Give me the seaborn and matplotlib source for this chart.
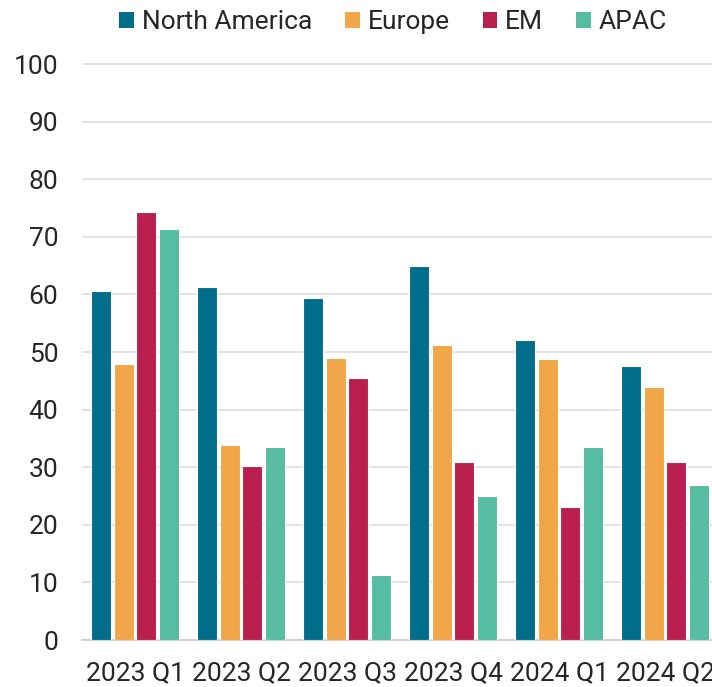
import matplotlib
matplotlib.use("Agg")
import matplotlib.pyplot as plt
from matplotlib import font_manager
from matplotlib.patches import Patch
import seaborn as sns
import pandas as pd

quarters = ["2023 Q1", "2023 Q2", "2023 Q3", "2023 Q4", "2024 Q1", "2024 Q2"]
regions = ["North America", "Europe", "EM", "APAC"]
north_america = [60.6, 61.3, 59.4, 65.0, 52.0, 47.6]
europe = [47.9, 33.9, 49.0, 51.2, 48.7, 43.9]
em = [74.3, 30.2, 45.4, 30.9, 23.1, 30.9]
apac = [71.3, 33.5, 11.3, 25.0, 33.5, 26.9]
y_ticks = [0, 10, 20, 30, 40, 50, 60, 70, 80, 90, 100]

colors = ["#006E8A", "#F2A64A", "#B91F4F", "#56BDA2"]

series = {"North America": north_america, "Europe": europe, "EM": em, "APAC": apac}
rows = []
for reg in regions:
    for q, v in zip(quarters, series[reg]):
        rows.append({"quarter": q, "region": reg, "value": v})
df = pd.DataFrame(rows)

sns.set_theme(style="white")
available = {f.name for f in font_manager.fontManager.ttflist}
family = next((f for f in ["Liberation Sans Narrow", "Roboto", "Liberation Sans"] if f in available),
              "DejaVu Sans")
plt.rcParams["font.family"] = [family, "DejaVu Sans"]
text_color = "#262626"

W, H = 712, 687
fig = plt.figure(figsize=(W / 100, H / 100), dpi=100)
ymax = 104
px_per_unit = 5.76
left, right = 82, 718
bottom_px = 640
top_px = bottom_px - ymax * px_per_unit
ax = fig.add_axes([left / W, (H - bottom_px) / H, (right - left) / W, (bottom_px - top_px) / H])

sns.barplot(data=df, x="quarter", y="value", hue="region", order=quarters,
            hue_order=regions, palette=colors, saturation=1, width=0.85, gap=0.12,
            edgecolor="white", linewidth=0.8, ax=ax, legend=False, zorder=3)

ax.set_ylim(0, ymax)
ax.set_xlim(-0.5, len(quarters) - 0.5)
ax.set_yticks(y_ticks)
ax.set_yticklabels([str(t) for t in y_ticks])
ax.grid(axis="y", color="#e0e0e0", linewidth=1.3, zorder=0)
ax.set_axisbelow(True)
for s in ["left", "right", "top"]:
    ax.spines[s].set_visible(False)
ax.spines["bottom"].set_color("#d0d0d0")
ax.spines["bottom"].set_linewidth(1.3)
ax.set_xlabel("")
ax.set_ylabel("")

ax.set_xticks([i - 0.5 for i in range(len(quarters))], minor=True)
ax.tick_params(axis="x", which="minor", length=12, color="#d0d0d0", width=1.3)
ax.tick_params(axis="x", which="major", length=0, pad=15, labelsize=19, labelcolor=text_color)
ax.tick_params(axis="y", length=0, pad=17, labelsize=19, labelcolor=text_color)

handles = [Patch(facecolor=c, edgecolor="none") for c in colors]
fig.legend(handles, regions, loc="center", bbox_to_anchor=(393 / W, 1 - 22 / H),
           ncol=4, frameon=False, fontsize=19, handlelength=0.55, handleheight=0.55,
           handletextpad=0.3, columnspacing=1.25, labelcolor=text_color)

fig.savefig("out.png", dpi=100)
